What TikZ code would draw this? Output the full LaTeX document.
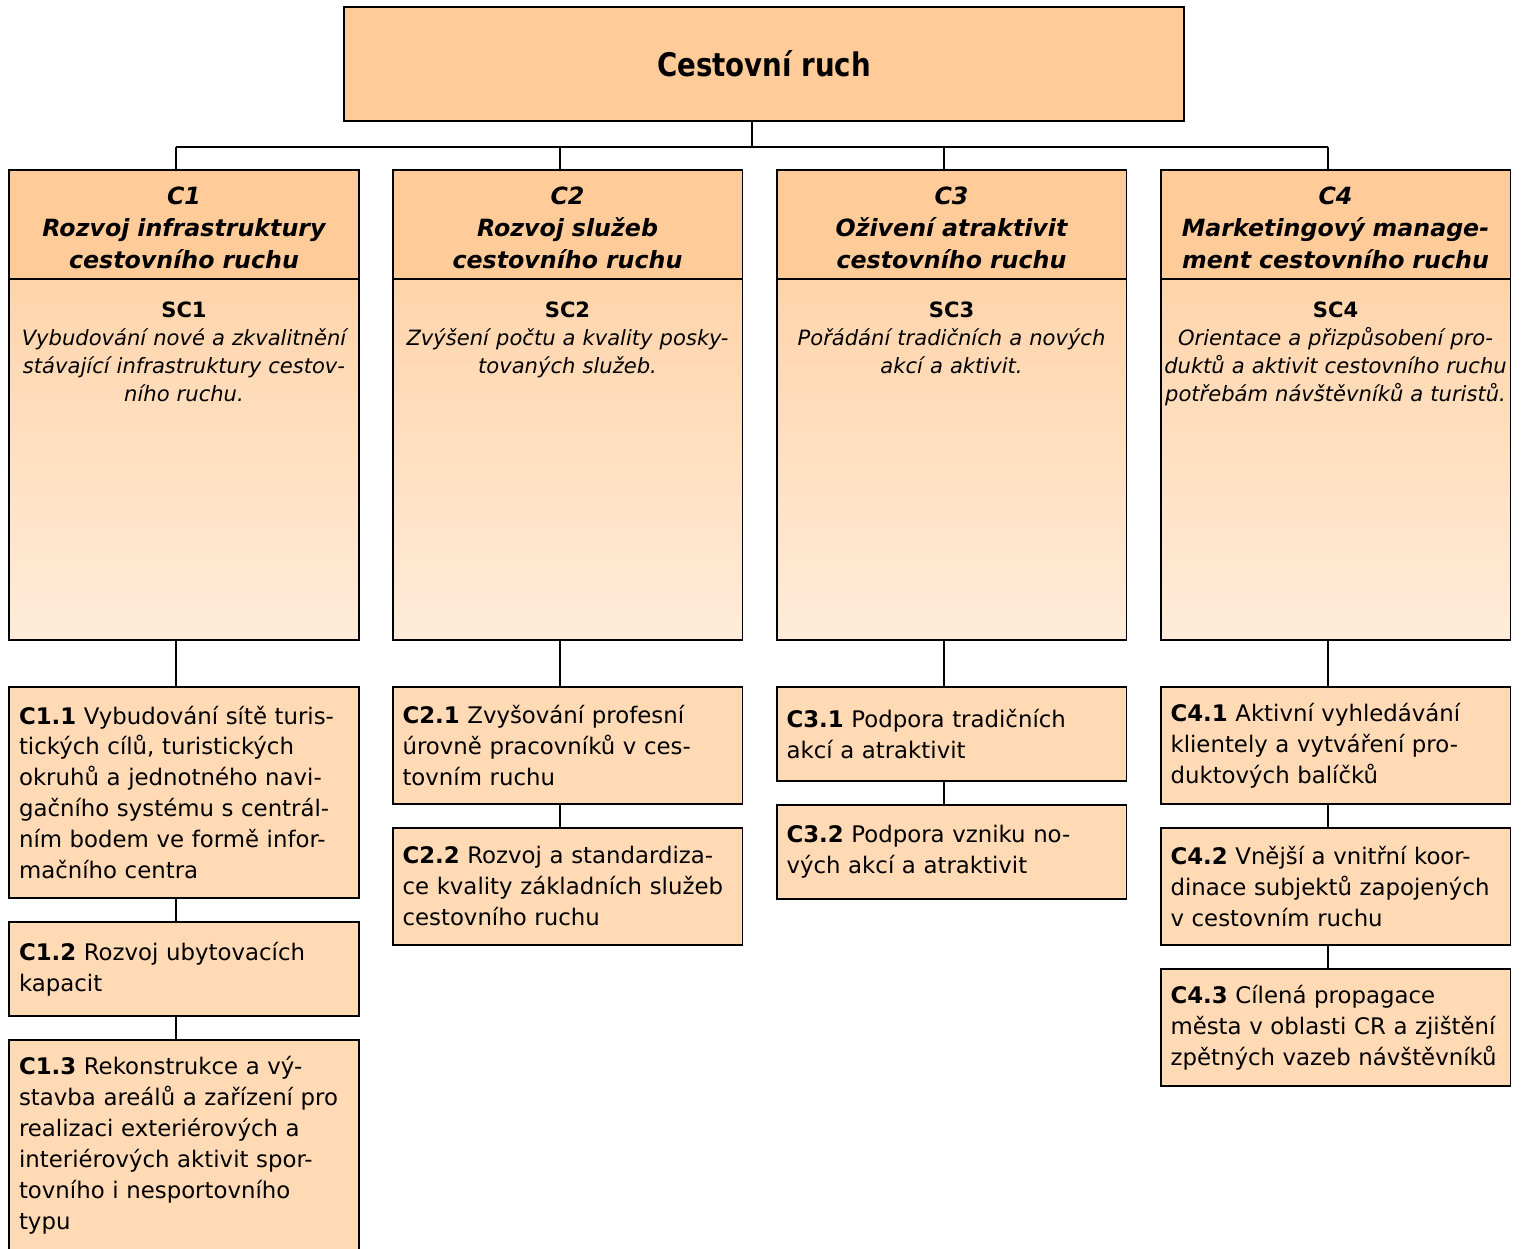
\documentclass[tikz,border=0pt]{standalone}
\usepackage{fontspec}
\setmainfont{DejaVu Sans}
\newfontfamily\titlefont[FakeStretch=0.85]{DejaVu Sans}
\usetikzlibrary{positioning, calc}
\definecolor{ruchorange}{RGB}{255,204,153}
\definecolor{bodytop}{RGB}{255,212,170}
\definecolor{bodybottom}{RGB}{255,236,218}
\definecolor{itemfill}{RGB}{255,218,181}
\tikzset{
    my-top-box/.style={
        draw, fill=ruchorange, line width=1.1pt, outer sep=0pt, minimum width=16.8cm, minimum height=2.28cm,
        font=\titlefont\fontsize{18.5}{22}\selectfont\bfseries
    },
    my-head-box/.style={
        draw, fill=ruchorange, line width=1.1pt, outer sep=0pt, minimum width=7cm, minimum height=2.18cm,
        text width=6.9cm, align=center, inner sep=0pt, execute at begin node={\rule{0pt}{0.47cm}},
        font=\fontsize{13.5}{18.2}\selectfont\bfseries\itshape
    },
    my-body-box/.style={
        draw, top color=bodytop, bottom color=bodybottom, line width=1.1pt, outer sep=0pt,
        minimum width=7cm, minimum height=7.22cm, inner sep=0pt
    },
    my-body-text/.style={
        text width=6.9cm, align=center, inner sep=0pt,
        font=\fontsize{12}{15.9}\selectfont\itshape
    },
    my-item-box/.style={
        draw, fill=itemfill, line width=1.1pt, outer sep=0pt, text width=6.6cm, align=left,
        inner xsep=0.2cm, inner ysep=0pt, font=\fontsize{13}{17.6}\selectfont
    },
    my-wire/.style={
        line width=1.1pt
    },
}

\begin{document}
\begin{tikzpicture}[x=0.02cm, y=0.02cm]

        \useasboundingbox (0,0) rectangle (1524,-1248);

        % TOP BOX -------------------------------------------------------------------------------------
        \node[my-top-box] (TOP) at (764, -64) {Cestovní ruch};

        % BUS AND DROP POINTS
        \coordinate (BUS) at (752, -147);
        \coordinate (D1)  at (176, -147);
        \coordinate (D2)  at (560, -147);
        \coordinate (D3)  at (944, -147);
        \coordinate (D4)  at (1328, -147);

        % COLUMN HEADERS ------------------------------------------------------------------------------
        \node[my-head-box, anchor=north] (H1) at (184, -170)    {C1\\Rozvoj infrastruktury\\cestovního ruchu};
        \node[my-head-box, anchor=north] (H2) at (567.5, -170)  {C2\\Rozvoj služeb\\cestovního ruchu};
        \node[my-head-box, anchor=north] (H3) at (951.5, -170)  {C3\\Oživení atraktivit\\cestovního ruchu};
        \node[my-head-box, anchor=north] (H4) at (1335.5, -170) {C4\\Marketingový manage-\\ment cestovního ruchu};

        % COLUMN BODIES -------------------------------------------------------------------------------
        \node[my-body-box, anchor=north] (B1) at (H1.south) {};
        \node[my-body-box, anchor=north] (B2) at (H2.south) {};
        \node[my-body-box, anchor=north] (B3) at (H3.south) {};
        \node[my-body-box, anchor=north] (B4) at (H4.south) {};

        % SPECIFIC GOALS - TEXT
        \node[my-body-text, anchor=north] (T1) at ($(B1.north) + (0, -23)$)
            {\textup{\textbf{SC1}}\\Vybudování nové a zkvalitnění\\stávající infrastruktury cestov-\\ního ruchu.};
        \node[my-body-text, anchor=north] (T2) at ($(B2.north) + (0, -23)$)
            {\textup{\textbf{SC2}}\\Zvýšení počtu a kvality posky-\\tovaných služeb.};
        \node[my-body-text, anchor=north] (T3) at ($(B3.north) + (0, -23)$)
            {\textup{\textbf{SC3}}\\Pořádání tradičních a nových\\akcí a aktivit.};
        \node[my-body-text, anchor=north] (T4) at ($(B4.north) + (0, -23)$)
            {\textup{\textbf{SC4}}\\Orientace a přizpůsobení pro-\\duktů a aktivit cestovního ruchu\\potřebám návštěvníků a turistů.};

        % MEASURES - C1 -------------------------------------------------------------------------------
        \node[my-item-box, minimum height=4.22cm, below=0.94cm of B1] (C11)
            {\textbf{C1.1} Vybudování sítě turis-\\tických cílů, turistických\\okruhů a jednotného navi-\\gačního systému s centrál-\\ním bodem ve formě infor-\\mačního centra};
        \node[my-item-box, minimum height=1.88cm, below=0.48cm of C11] (C12)
            {\textbf{C1.2} Rozvoj ubytovacích\\kapacit};
        \node[my-item-box, minimum height=4.22cm, below=0.48cm of C12] (C13)
            {\textbf{C1.3} Rekonstrukce a vý-\\stavba areálů a zařízení pro\\realizaci exteriérových a\\interiérových aktivit spor-\\tovního i nesportovního\\typu};

        % MEASURES - C2
        \node[my-item-box, minimum height=2.34cm, below=0.94cm of B2] (C21)
            {\textbf{C2.1} Zvyšování profesní\\úrovně pracovníků v ces-\\tovním ruchu};
        \node[my-item-box, minimum height=2.34cm, below=0.48cm of C21] (C22)
            {\textbf{C2.2} Rozvoj a standardiza-\\ce kvality základních služeb\\cestovního ruchu};

        % MEASURES - C3
        \node[my-item-box, minimum height=1.88cm, below=0.94cm of B3] (C31)
            {\textbf{C3.1} Podpora tradičních\\akcí a atraktivit};
        \node[my-item-box, minimum height=1.88cm, below=0.48cm of C31] (C32)
            {\textbf{C3.2} Podpora vzniku no-\\vých akcí a atraktivit};

        % MEASURES - C4
        \node[my-item-box, minimum height=2.34cm, below=0.94cm of B4] (C41)
            {\textbf{C4.1} Aktivní vyhledávání\\klientely a vytváření pro-\\duktových balíčků};
        \node[my-item-box, minimum height=2.34cm, below=0.48cm of C41] (C42)
            {\textbf{C4.2} Vnější a vnitřní koor-\\dinace subjektů zapojených\\v cestovním ruchu};
        \node[my-item-box, minimum height=2.34cm, below=0.48cm of C42] (C43)
            {\textbf{C4.3} Cílená propagace\\města v oblasti CR a zjištění\\zpětných vazeb návštěvníků};

        % WIRES ---------------------------------------------------------------------------------------
        \draw[my-wire] (BUS |- TOP.south) -- (BUS);
        \draw[my-wire] (D1) -- (D4);
        \draw[my-wire] (D1) -- (D1 |- H1.north);
        \draw[my-wire] (D2) -- (D2 |- H2.north);
        \draw[my-wire] (D3) -- (D3 |- H3.north);
        \draw[my-wire] (D4) -- (D4 |- H4.north);

        % COLUMN TO MEASURES
        \draw[my-wire] (D1 |- B1.south)  -- (D1 |- C11.north);
        \draw[my-wire] (D1 |- C11.south) -- (D1 |- C12.north);
        \draw[my-wire] (D1 |- C12.south) -- (D1 |- C13.north);
        \draw[my-wire] (D2 |- B2.south)  -- (D2 |- C21.north);
        \draw[my-wire] (D2 |- C21.south) -- (D2 |- C22.north);
        \draw[my-wire] (D3 |- B3.south)  -- (D3 |- C31.north);
        \draw[my-wire] (D3 |- C31.south) -- (D3 |- C32.north);
        \draw[my-wire] (D4 |- B4.south)  -- (D4 |- C41.north);
        \draw[my-wire] (D4 |- C41.south) -- (D4 |- C42.north);
        \draw[my-wire] (D4 |- C42.south) -- (D4 |- C43.north);

    \end{tikzpicture}
\end{document}
